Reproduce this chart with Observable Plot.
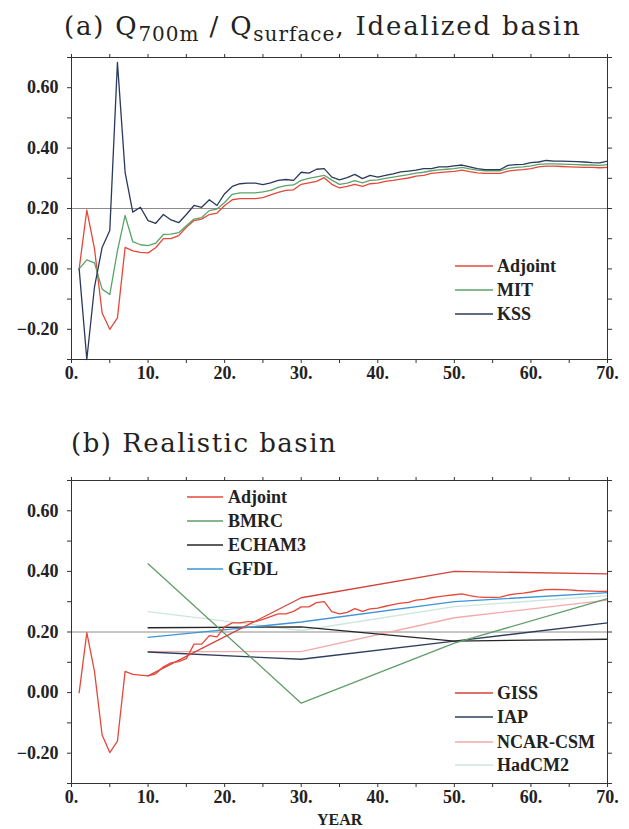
<!DOCTYPE html>
<html><head><meta charset="utf-8">
<script src="https://cdn.jsdelivr.net/npm/d3@7"></script>
<script src="https://cdn.jsdelivr.net/npm/@observablehq/plot@0.6"></script>
<style>
body{margin:0;background:#fff;}
#wrap{position:relative;width:629px;height:829px;overflow:hidden;background:#fff;}
#wrap svg.plot{position:absolute;left:0;}
.title{position:absolute;font-family:"DejaVu Serif";font-size:26px;letter-spacing:1.5px;line-height:30px;color:#222;white-space:nowrap;}
.title.ta{letter-spacing:1.8px;}
.title sub{font-size:20px;vertical-align:-6px;line-height:0;letter-spacing:1px;}
.leg{position:absolute;font-family:"Liberation Serif";font-weight:bold;font-size:18px;color:#222;white-space:nowrap;line-height:20px;}
.xlab{position:absolute;font-family:"Liberation Serif";font-weight:bold;font-size:16px;color:#222;}
</style>
</head><body>
<div id="wrap"></div>
<script>
// ---------- data ----------
const years = d3.range(1, 71);
// Panel (a): Idealized basin
const adjointA = [0.000,0.195,0.067,-0.146,-0.200,-0.162,0.071,0.060,0.055,0.053,
  0.070,0.100,0.100,0.110,0.138,0.160,0.165,0.180,0.185,0.210,
  0.229,0.233,0.233,0.233,0.236,0.245,0.253,0.260,0.262,0.280,
  0.285,0.290,0.302,0.280,0.268,0.273,0.280,0.273,0.282,0.284,
  0.290,0.293,0.297,0.301,0.307,0.310,0.316,0.319,0.321,0.323,
  0.327,0.322,0.318,0.316,0.316,0.316,0.324,0.327,0.329,0.332,
  0.338,0.340,0.340,0.339,0.338,0.337,0.336,0.336,0.335,0.336];
const mitA = [0.000,0.030,0.020,-0.067,-0.085,0.060,0.177,0.090,0.080,0.077,
  0.085,0.114,0.115,0.120,0.143,0.165,0.170,0.193,0.198,0.220,
  0.247,0.252,0.252,0.252,0.255,0.260,0.270,0.276,0.278,0.293,
  0.300,0.305,0.310,0.294,0.280,0.284,0.292,0.285,0.293,0.295,
  0.300,0.304,0.308,0.312,0.317,0.320,0.325,0.328,0.330,0.332,
  0.336,0.331,0.327,0.325,0.325,0.325,0.333,0.336,0.338,0.341,
  0.346,0.348,0.348,0.347,0.346,0.345,0.344,0.344,0.343,0.345];
const kssA = [0.000,-0.300,-0.060,0.071,0.127,0.684,0.320,0.188,0.204,0.160,
  0.151,0.180,0.162,0.153,0.180,0.210,0.204,0.229,0.210,0.249,
  0.273,0.282,0.284,0.284,0.279,0.285,0.293,0.296,0.293,0.320,
  0.317,0.330,0.332,0.304,0.295,0.302,0.313,0.299,0.310,0.304,
  0.310,0.315,0.321,0.324,0.327,0.332,0.332,0.338,0.338,0.341,
  0.344,0.338,0.332,0.329,0.329,0.329,0.343,0.345,0.346,0.352,
  0.354,0.359,0.357,0.357,0.356,0.355,0.354,0.352,0.351,0.357];
// Panel (b): Realistic basin
const adjointB = [0.000,0.198,0.070,-0.140,-0.198,-0.160,0.070,0.060,0.058,0.055,
  0.062,0.085,0.098,0.102,0.112,0.160,0.160,0.188,0.184,0.217,
  0.230,0.230,0.234,0.234,0.242,0.251,0.260,0.260,0.268,0.283,
  0.283,0.297,0.300,0.267,0.260,0.265,0.277,0.268,0.276,0.279,
  0.285,0.290,0.295,0.298,0.305,0.308,0.313,0.317,0.320,0.323,
  0.326,0.320,0.316,0.314,0.314,0.315,0.322,0.326,0.328,0.332,
  0.337,0.340,0.341,0.340,0.339,0.337,0.336,0.335,0.334,0.334];
const modelYears = [10, 30, 50, 70];
const giss    = [0.055, 0.313, 0.400, 0.392];
const bmrc    = [0.425, -0.035, 0.163, 0.310];
const echam3  = [0.214, 0.217, 0.170, 0.176];
const gfdl    = [0.182, 0.233, 0.300, 0.330];
const iap     = [0.134, 0.110, 0.170, 0.230];
const ncarCsm = [0.135, 0.135, 0.247, 0.305];
const hadcm2  = [0.267, 0.205, 0.284, 0.320];

const xTicks = d3.range(0, 71, 5);
const yTicks = [-0.3,-0.2,-0.1,0,0.1,0.2,0.3,0.4,0.5,0.6,0.7];
const refLine = [0.2];

const C = {
  adjoint:"#e5483a", mit:"#5aa46a", kss:"#2b3a5a",
  giss:"#d2443a", bmrc:"#5f9e68", echam3:"#262626", gfdl:"#3d95d6",
  iap:"#2f3d5c", ncar:"#f3aaaa", hadcm2:"#cde5dc"
};

const series = (xs, ys) => xs.map((x, i) => ({year: x, value: ys[i]}));

const panelA = [
  {name:"Adjoint", color:C.adjoint, data:series(years, adjointA)},
  {name:"MIT", color:C.mit, data:series(years, mitA)},
  {name:"KSS", color:C.kss, data:series(years, kssA)}
];
const panelB = [
  {name:"HadCM2", color:C.hadcm2, data:series(modelYears, hadcm2)},
  {name:"NCAR-CSM", color:C.ncar, data:series(modelYears, ncarCsm)},
  {name:"IAP", color:C.iap, data:series(modelYears, iap)},
  {name:"ECHAM3", color:C.echam3, data:series(modelYears, echam3)},
  {name:"GFDL", color:C.gfdl, data:series(modelYears, gfdl)},
  {name:"BMRC", color:C.bmrc, data:series(modelYears, bmrc)},
  {name:"GISS", color:C.giss, data:series(modelYears, giss)},
  {name:"Adjoint", color:C.adjoint, data:series(years, adjointB)}
];

const fmtX = d => (d % 10 === 0 ? d + "." : "");
const fmtY = d => {
  const k = Math.round(d * 10);
  if (k % 2 !== 0 || k < -2 || k > 6) return "";
  return d.toFixed(2).replace("-", "\u2212");
};

function makePlot(list, height, mt, mb) {
  const svg = Plot.plot({
    width: 629, height,
    marginLeft: 71, marginRight: 22, marginTop: mt, marginBottom: mb,
    style: {fontFamily: "Liberation Serif", fontSize: "18px", fontWeight: "bold", color: "#222", background: "transparent"},
    x: {domain: [0, 70]},
    y: {domain: [-0.3, 0.7]},
    marks: [
      Plot.ruleY(refLine, {stroke: "#8c8c8c", strokeWidth: 1}),
      ...list.map(s => Plot.line(s.data, {x: "year", y: "value", stroke: s.color, strokeWidth: 1.3})),
      Plot.frame({stroke: "#333", strokeWidth: 1}),
      Plot.axisX({anchor: "bottom", ticks: xTicks, tickSize: 4, tickPadding: 3, tickFormat: fmtX, label: null, stroke: "#333"}),
      Plot.axisX({anchor: "top", ticks: xTicks, tickSize: 4, tickFormat: () => "", label: null, stroke: "#333"}),
      Plot.axisY({anchor: "left", ticks: yTicks, tickSize: 4, tickPadding: 9, tickFormat: fmtY, label: null, stroke: "#333"}),
      Plot.axisY({anchor: "right", ticks: yTicks, tickSize: 4, tickFormat: () => "", label: null, stroke: "#333"})
    ]
  });
  svg.classList.add("plot");
  return svg;
}

const wrap = document.getElementById("wrap");
const svgA = makePlot(panelA, 395, 57, 36);
svgA.style.top = "0px";
wrap.appendChild(svgA);
const svgB = makePlot(panelB, 409, 60, 46);
svgB.style.top = "420px";
wrap.appendChild(svgB);

function addTitle(html, left, top, cls) {
  const d = document.createElement("div");
  d.className = "title" + (cls ? " " + cls : ""); d.innerHTML = html;
  d.style.left = left + "px"; d.style.top = top + "px";
  wrap.appendChild(d);
}
addTitle("(a) Q<sub>700m</sub> / Q<sub>surface</sub>, Idealized basin", 64, 11, "ta");
addTitle("(b) Realistic basin", 71, 428);

const NS = "http://www.w3.org/2000/svg";
function addLegend(items, lineX, lineW, textX, ys) {
  items.forEach((it, i) => {
    const s = document.createElementNS(NS, "svg");
    s.setAttribute("width", lineW); s.setAttribute("height", 6);
    s.style.position = "absolute";
    s.style.left = lineX + "px"; s.style.top = (ys[i] - 3) + "px";
    const l = document.createElementNS(NS, "line");
    l.setAttribute("x1", 0); l.setAttribute("x2", lineW);
    l.setAttribute("y1", 3); l.setAttribute("y2", 3);
    l.setAttribute("stroke", it.color); l.setAttribute("stroke-width", 1.4);
    s.appendChild(l);
    wrap.appendChild(s);
    const t = document.createElement("div");
    t.className = "leg"; t.textContent = it.name;
    t.style.left = textX + "px"; t.style.top = (ys[i] - 10) + "px";
    wrap.appendChild(t);
  });
}
addLegend([{name:"Adjoint",color:C.adjoint},{name:"MIT",color:C.mit},{name:"KSS",color:C.kss}],
  455, 38, 497, [266, 290, 314]);
addLegend([{name:"Adjoint",color:C.adjoint},{name:"BMRC",color:C.bmrc},{name:"ECHAM3",color:C.echam3},{name:"GFDL",color:C.gfdl}],
  187, 36, 228, [497, 521, 545, 569]);
addLegend([{name:"GISS",color:C.giss},{name:"IAP",color:C.iap},{name:"NCAR-CSM",color:C.ncar},{name:"HadCM2",color:C.hadcm2}],
  455, 38, 497, [693, 717, 742, 765]);

const yl = document.createElement("div");
yl.className = "xlab"; yl.textContent = "YEAR";
yl.style.left = "317px"; yl.style.top = "811px";
wrap.appendChild(yl);
</script>
</body></html>
